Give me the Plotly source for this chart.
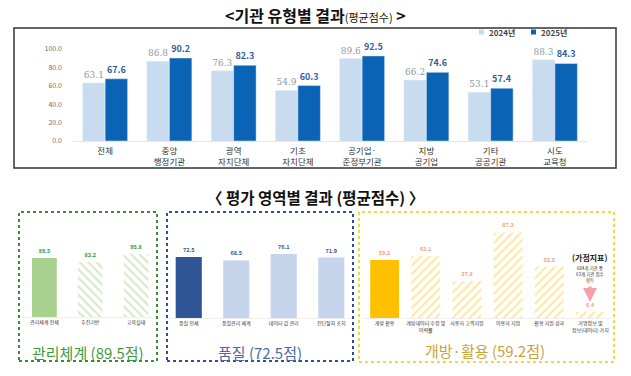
import plotly.graph_objects as go

W, H = 631, 376

# ---- data: top chart ----
inst_types = ["전체", "중앙<br>행정기관", "광역<br>자치단체", "기초<br>자치단체",
              "공기업·<br>준정부기관", "지방<br>공기업", "기타<br>공공기관", "시도<br>교육청"]
score_2024 = [63.1, 86.8, 76.3, 54.9, 89.6, 66.2, 53.1, 88.3]
score_2025 = [67.6, 90.2, 82.3, 60.3, 92.5, 74.6, 57.4, 84.3]
y_ticks = [0, 20, 40, 60, 80, 100]
series_names = ["2024년", "2025년"]

# ---- data: bottom panels ----
mgmt_labels = ["관리체계 전체", "추진기반", "교육실태"]
mgmt_values = [89.5, 83.2, 95.8]
qual_labels = ["품질 전체", "품질관리 체계", "데이터 값 관리", "진단절차 조치"]
qual_values = [72.5, 68.5, 76.1, 71.9]
open_labels = ["개방 활용", "개방데이터 수정 및<br>이력률", "사용자 고객지원", "이용자 지원",
               "활용 지원 성과", "가명정보 및<br>정보(데이터) 가치"]
open_values = [59.2, 63.1, 37.8, 87.3, 52.5, 6.4]

FONT = "Noto Sans CJK KR"
C24, C25 = "#c9dcef", "#0b63b6"

def px(x):
    return x / W

def py(y):
    return 1 - y / H

fig = go.Figure()

# top chart bars
fig.add_trace(go.Bar(
    x=inst_types, y=score_2024, name=series_names[0], marker_color=C24,
    text=[f"{v:.1f}" for v in score_2024], textposition="outside",
    textfont=dict(size=9, color="#8e9aa8", family="DejaVu Serif"),
    cliponaxis=False, xaxis="x", yaxis="y"))
fig.add_trace(go.Bar(
    x=inst_types, y=score_2025, name=series_names[1], marker_color=C25,
    text=[f"<b>{v:.1f}</b>" for v in score_2025], textposition="outside",
    textfont=dict(size=9, color="#2f5fa0"),
    cliponaxis=False, xaxis="x", yaxis="y"))

# bottom panels
def add_panel(labels, values, colors, patterns, pat_fg, txt_color, width, xa, ya):
    fig.add_trace(go.Bar(
        x=labels, y=values, width=width,
        marker=dict(color=colors, line=dict(width=0),
                    pattern=dict(shape=patterns, fgcolor=pat_fg, bgcolor=colors,
                                 fillmode="replace", size=6, solidity=0.35)),
        text=[f"<b>{v:.1f}</b>" for v in values], textposition="outside",
        textfont=dict(size=5.5, color=txt_color), cliponaxis=False,
        xaxis=xa, yaxis=ya))

add_panel(mgmt_labels, mgmt_values, ["#a9d18e", "#d6e9c8", "#d6e9c8"],
          ["", "\\", "\\"], "#ecf5e5", "#2e9a4a", 0.54, "x2", "y2")
add_panel(qual_labels, qual_values, ["#2f5597", "#c6d4ec", "#c6d4ec", "#c6d4ec"],
          ["", "", "", ""], "#ffffff", "#2f5597", 0.55, "x3", "y3")
add_panel(open_labels, open_values,
          ["#ffc000", "#ffe79e", "#ffe79e", "#ffe79e", "#ffe79e", "#ffe79e"],
          ["", "/", "/", "/", "/", "/"], "#fff3d0", "#f2a27a", 0.7, "x4", "y4")

small_tick = dict(size=5, color="#333333")
fig.update_layout(
    width=W, height=H, margin=dict(l=0, r=0, t=0, b=0),
    paper_bgcolor="white", plot_bgcolor="white",
    font=dict(family=FONT),
    barmode="group", bargap=0.3, bargroupgap=0,
    showlegend=False,
    xaxis=dict(domain=[px(73), px(587)], showline=True, linecolor="#e6e6e6",
               tickfont=dict(size=8.5, color="#333333"), ticks="", automargin=False,
               ticklabelstandoff=2),
    yaxis=dict(domain=[py(141), py(49)], range=[0, 100], tickvals=y_ticks,
               tickformat=".1f", showgrid=False, zeroline=False, automargin=False,
               tickfont=dict(size=7, color="#707070"), ticklabelstandoff=10),
    xaxis2=dict(domain=[px(21.5), px(159)], anchor="y2", showline=True, linecolor="#eeeeee",
                tickfont=small_tick, ticks="", tickangle=0, automargin=False),
    yaxis2=dict(domain=[py(317), py(238)], range=[0, 120], visible=False, anchor="x2"),
    xaxis3=dict(domain=[px(165), px(355)], anchor="y3", showline=True, linecolor="#eeeeee",
                tickfont=small_tick, ticks="", tickangle=0, automargin=False),
    yaxis3=dict(domain=[py(318), py(234)], range=[0, 100], visible=False, anchor="x3"),
    xaxis4=dict(domain=[px(364), px(611)], anchor="y4", showline=True, linecolor="#eeeeee",
                tickfont=small_tick, ticks="", tickangle=0, automargin=False),
    yaxis4=dict(domain=[py(318), py(220)], range=[0, 100], visible=False, anchor="x4"),
)

shapes = [
    dict(type="rect", xref="paper", yref="paper", x0=px(14), x1=px(616), y0=py(168), y1=py(28),
         line=dict(color="#333333", width=1.5)),
    dict(type="rect", xref="paper", yref="paper", x0=px(19), x1=px(157), y0=py(361), y1=py(212),
         line=dict(color="#3d8b37", width=2, dash="dot")),
    dict(type="rect", xref="paper", yref="paper", x0=px(167), x1=px(353), y0=py(361), y1=py(212),
         line=dict(color="#2f4f8f", width=2, dash="dot")),
    dict(type="rect", xref="paper", yref="paper", x0=px(359), x1=px(614), y0=py(362), y1=py(212),
         line=dict(color="#f2d54a", width=2, dash="dot")),
    # legend swatches
    dict(type="rect", xref="paper", yref="paper", x0=px(479), x1=px(484), y0=py(34.5), y1=py(29.5),
         line=dict(width=0), fillcolor=C24),
    dict(type="rect", xref="paper", yref="paper", x0=px(531), x1=px(536), y0=py(34.5), y1=py(29.5),
         line=dict(width=0), fillcolor=C25),
]
fig.update_layout(shapes=shapes)

ann = [
    dict(x=px(315), y=py(15),
         text="<b>&lt;기관 유형별 결과</b><span style='font-size:11px'>(평균점수)</span><b> &gt;</b>",
         font=dict(size=16, color="#111111")),
    dict(x=px(487), y=py(32), text=f"<b>{series_names[0]}</b>", xanchor="left",
         font=dict(size=8, color="#444444")),
    dict(x=px(539), y=py(32), text=f"<b>{series_names[1]}</b>", xanchor="left",
         font=dict(size=8, color="#444444")),
    dict(x=px(315), y=py(197), text="<b>〈 평가 영역별 결과 (평균점수) 〉</b>",
         font=dict(size=15.5, color="#111111")),
    dict(x=px(88), y=py(352), text="관리체계 (89.5점)", font=dict(size=15, color="#3f9a3f")),
    dict(x=px(260), y=py(352), text="품질 (72.5점)", font=dict(size=15, color="#4a6aa8")),
    dict(x=px(485), y=py(350), text="개방·활용 (59.2점)", font=dict(size=15, color="#caa33a")),
    dict(x=px(590), y=py(257), text="<b>(가점지표)</b>", font=dict(size=8, color="#222222")),
    dict(x=px(590), y=py(274), text="684개 기관 중<br>63개 기관 점수<br>획득",
         font=dict(size=4.5, color="#333333")),
    dict(x=px(590), y=py(302), ax=0, ay=-17, text="", showarrow=True, arrowhead=2,
         arrowsize=0.8, arrowwidth=3.5, arrowcolor="#f3a3a8"),
]
for a in ann:
    a.setdefault("xref", "paper")
    a.setdefault("yref", "paper")
    a.setdefault("showarrow", False)
    a.setdefault("xanchor", "center")
    a.setdefault("yanchor", "middle")
fig.update_layout(annotations=ann)

fig.write_html("out.html", config={"displayModeBar": False},
               post_script="document.body.style.margin='0';")
